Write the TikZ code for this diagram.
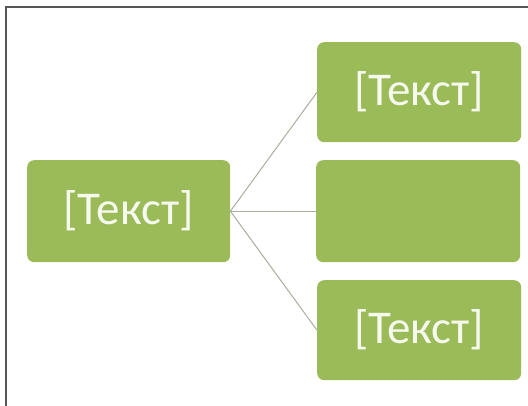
\documentclass[tikz,border=0pt]{standalone}
\usepackage{fontspec}
\setmainfont{Carlito}
\definecolor{boxgreen}{HTML}{9BBB59}
\definecolor{txtcol}{HTML}{F6F9EE}
\definecolor{linecol}{HTML}{A9AD9E}
\definecolor{framecol}{HTML}{555555}
\begin{document}
\begin{tikzpicture}[x=1pt,y=-1pt,
  gbox/.style={fill=boxgreen, draw=none, rounded corners=7pt, minimum width=204pt, minimum height=100pt, inner sep=0pt, text=txtcol, font=\fontsize{47}{52}\selectfont, anchor=north west},
  conn/.style={draw=linecol, line width=1pt}]
\useasboundingbox (0,0) rectangle (528,406);
\draw[framecol, line width=1.5pt] (528,7) -- (6,7) -- (6,406);
\node[gbox, minimum width=203pt, minimum height=102pt] (root) at (27,160) {[Текст]};
\node[gbox] (c1) at (317,42) {[Текст]};
\node[gbox, minimum height=102pt] (c2) at (316,160) {};
\node[gbox] (c3) at (317,280) {[Текст]};
\draw[conn] (root.east) -- (c1.west);
\draw[conn] (root.east) -- (c2.west);
\draw[conn] (root.east) -- (c3.west);
\end{tikzpicture}
\end{document}
